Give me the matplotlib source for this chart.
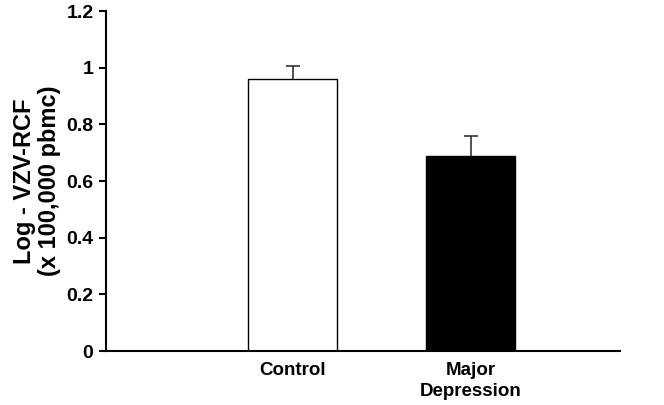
import matplotlib.pyplot as plt
import numpy as np

plt.rcParams['font.family'] = ['Liberation Sans', 'DejaVu Sans']
plt.rcParams['font.weight'] = 'bold'

groups = ['Control', 'Major\nDepression']
means = [0.96, 0.69]
errs = [0.045, 0.07]
colors = ['white', 'black']
yticks = [0, 0.2, 0.4, 0.6, 0.8, 1, 1.2]

fig = plt.figure(figsize=(6.64, 4.05), dpi=100)
ax = fig.add_axes([0.1596, 0.1333, 0.7744, 0.8395])

x = np.arange(len(groups))
ax.bar(x, means, width=0.5, color=colors, edgecolor='black', linewidth=1.0, zorder=2)
eb = ax.errorbar(x, means, yerr=[np.zeros(len(errs)), errs], fmt='none',
                 ecolor='#333333', elinewidth=1.2, capsize=5, capthick=1.2, zorder=3)
eb[1][0].set_visible(False)  # only the upper cap

ax.set_xlim(-1.048, 1.84)
ax.set_ylim(0, 1.2)
ax.set_yticks(yticks)
ax.set_yticklabels(['0', '0.2', '0.4', '0.6', '0.8', '1', '1.2'], fontsize=14, fontweight='bold')
ax.set_xticks(x)
ax.set_xticklabels(groups, fontsize=13.5, fontweight='bold', linespacing=1.3)
ax.tick_params(axis='x', length=0, pad=8)
ax.tick_params(axis='y', direction='out', length=5, width=1.5, pad=4)
ax.spines['top'].set_visible(False)
ax.spines['right'].set_visible(False)
ax.spines['left'].set_linewidth(1.5)
ax.spines['bottom'].set_linewidth(1.5)

ax.set_ylabel('Log - VZV-RCF\n(x 100,000 pbmc)', fontsize=17, fontweight='bold',
              labelpad=4, linespacing=1.1)

fig.savefig('out.png', dpi=100)
